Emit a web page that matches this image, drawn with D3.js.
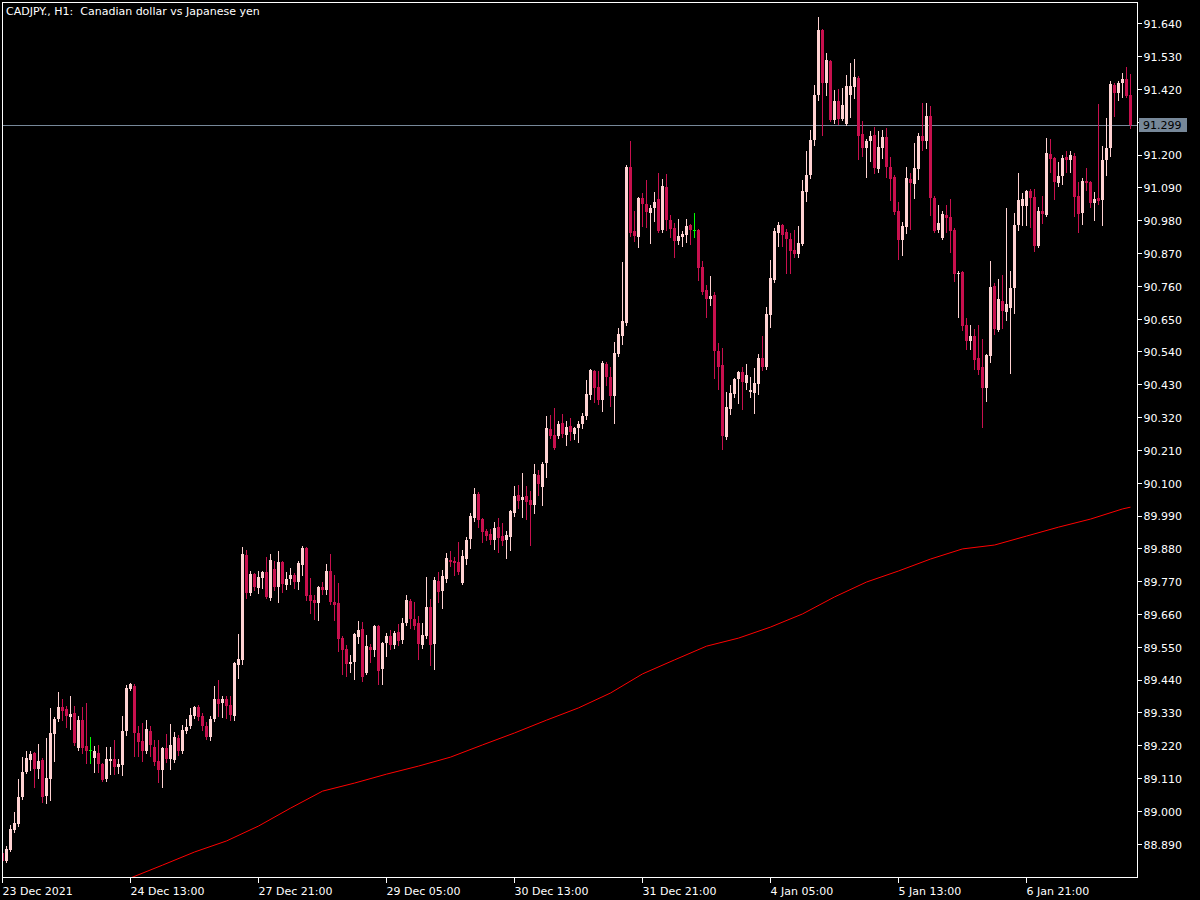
<!DOCTYPE html>
<html>
<head>
<meta charset="utf-8">
<script src="https://cdn.jsdelivr.net/npm/d3@7"></script>
<style>
html,body{margin:0;padding:0;background:#000;}
svg{display:block;}
text{font-family:"DejaVu Sans",sans-serif;font-size:11px;fill:#fff;}
</style>
</head>
<body>
<svg id="chart" width="1200" height="900"></svg>
<script>
const title = "CADJPY., H1:  Canadian dollar vs Japanese yen";
const lastPrice = 91.299;

const opens = [88.859,88.832,88.869,88.936,88.956,89.046,89.130,89.170,89.194,89.140,89.170,89.050,89.107,89.257,89.308,89.348,89.341,89.314,89.328,89.211,
89.304,89.217,89.204,89.177,89.194,89.157,89.107,89.167,89.174,89.147,89.154,89.267,89.408,89.418,89.261,89.234,89.200,89.267,89.214,89.167,
89.137,89.211,89.174,89.170,89.244,89.200,89.267,89.284,89.318,89.348,89.318,89.284,89.247,89.308,89.375,89.361,89.375,89.355,89.318,89.489,
89.505,89.858,89.730,89.794,89.747,89.780,89.800,89.713,89.811,89.750,89.834,89.757,89.777,89.790,89.767,89.824,89.881,89.723,89.707,89.697,
89.750,89.740,89.804,89.700,89.697,89.579,89.542,89.492,89.499,89.583,89.609,89.462,89.549,89.539,89.620,89.475,89.562,89.586,89.556,89.599,
89.572,89.630,89.703,89.643,89.630,89.556,89.586,89.683,89.559,89.770,89.737,89.777,89.841,89.837,89.834,89.764,89.844,89.911,89.982,90.062,
89.978,89.938,89.928,89.908,89.951,89.921,89.908,89.918,89.998,90.059,90.042,90.055,90.042,90.025,90.126,90.085,90.166,90.280,90.260,90.256,
90.300,90.260,90.290,90.263,90.283,90.297,90.324,90.394,90.474,90.421,90.377,90.498,90.454,90.390,90.531,90.592,90.635,91.158,90.943,90.923,
91.054,91.034,91.004,91.021,91.051,90.947,91.091,90.981,90.954,90.910,90.923,90.930,90.964,90.947,90.947,90.823,90.746,90.716,90.729,90.541,
90.494,90.253,90.347,90.397,90.447,90.471,90.434,90.404,90.401,90.431,90.518,90.488,90.662,90.779,90.937,90.964,90.940,90.917,90.880,90.866,
90.900,91.074,91.131,91.249,91.400,91.618,91.440,91.514,91.316,91.379,91.319,91.302,91.400,91.427,91.457,91.269,91.222,91.245,91.265,91.152,
91.222,91.259,91.158,91.125,91.011,90.913,90.957,91.118,91.101,91.152,91.262,91.245,91.329,91.054,90.947,90.920,90.997,90.991,90.947,90.799,
90.806,90.629,90.575,90.592,90.518,90.488,90.417,90.525,90.759,90.612,90.709,90.672,90.686,90.752,90.964,91.027,91.027,91.078,91.058,90.893,
91.011,90.997,91.202,91.188,91.105,91.128,91.192,91.182,91.195,91.061,91.004,91.111,91.108,91.037,91.054,91.048,91.182,91.222,91.433,91.406,
91.440,91.453,91.400];

const highs = [88.865,88.882,88.952,88.996,89.107,89.180,89.200,89.200,89.197,89.224,89.177,89.244,89.345,89.314,89.398,89.375,89.351,89.385,89.351,89.318,
89.348,89.361,89.247,89.217,89.221,89.160,89.214,89.214,89.237,89.174,89.318,89.422,89.428,89.425,89.284,89.294,89.304,89.284,89.237,89.237,
89.214,89.257,89.291,89.264,89.254,89.288,89.308,89.345,89.351,89.355,89.328,89.298,89.318,89.419,89.438,89.385,89.385,89.385,89.499,89.593,
89.884,89.874,89.804,89.797,89.804,89.804,89.851,89.861,89.837,89.871,89.837,89.800,89.814,89.797,89.837,89.888,89.884,89.780,89.723,89.754,
89.767,89.827,89.861,89.790,89.763,89.586,89.556,89.522,89.596,89.636,89.633,89.589,89.559,89.623,89.623,89.566,89.596,89.606,89.603,89.626,
89.647,89.723,89.710,89.700,89.653,89.630,89.784,89.710,89.784,89.800,89.807,89.864,89.871,89.851,89.901,89.874,89.918,89.998,90.082,90.069,
89.982,89.944,89.944,89.968,89.982,89.965,89.938,90.008,90.088,90.092,90.132,90.089,90.072,90.162,90.142,90.169,90.323,90.327,90.350,90.307,
90.330,90.307,90.317,90.287,90.307,90.334,90.444,90.481,90.478,90.474,90.508,90.504,90.488,90.572,90.618,90.840,91.165,91.245,91.010,91.057,
91.071,91.114,91.031,91.074,91.138,91.118,91.135,90.997,90.970,90.984,90.944,90.984,90.968,91.004,90.950,90.843,90.763,90.793,90.739,90.568,
90.551,90.404,90.427,90.451,90.474,90.488,90.498,90.454,90.484,90.531,90.592,90.689,90.846,90.954,90.974,90.967,90.950,90.937,90.947,90.960,
91.115,91.212,91.282,91.433,91.661,91.621,91.540,91.517,91.417,91.420,91.423,91.467,91.507,91.520,91.463,91.312,91.252,91.279,91.292,91.279,
91.282,91.289,91.192,91.131,91.041,90.974,91.158,91.138,91.238,91.272,91.373,91.373,91.362,91.061,91.031,91.011,91.031,91.051,90.954,90.809,
90.809,90.652,90.629,90.615,90.629,90.582,90.531,90.843,90.769,90.783,90.796,91.021,90.809,91.004,91.138,91.071,91.081,91.084,91.084,91.024,
91.061,91.255,91.252,91.192,91.175,91.198,91.212,91.212,91.205,91.108,91.121,91.155,91.111,91.074,91.369,91.229,91.323,91.447,91.440,91.447,
91.473,91.493,91.470];

const lows = [88.822,88.828,88.865,88.929,88.949,89.040,89.127,89.137,89.080,89.110,89.030,89.026,89.036,89.167,89.301,89.304,89.281,89.274,89.221,89.204,
89.194,89.160,89.160,89.130,89.130,89.100,89.100,89.123,89.123,89.127,89.120,89.254,89.405,89.184,89.184,89.167,89.194,89.184,89.154,89.097,
89.080,89.164,89.140,89.164,89.187,89.194,89.261,89.278,89.311,89.304,89.271,89.241,89.237,89.301,89.318,89.314,89.311,89.304,89.304,89.445,
89.492,89.713,89.723,89.740,89.730,89.747,89.713,89.707,89.740,89.700,89.733,89.744,89.760,89.747,89.744,89.790,89.707,89.663,89.643,89.640,
89.727,89.727,89.693,89.640,89.536,89.458,89.451,89.465,89.442,89.562,89.435,89.458,89.499,89.519,89.425,89.425,89.519,89.542,89.546,89.556,
89.562,89.623,89.613,89.609,89.509,89.546,89.579,89.489,89.475,89.700,89.680,89.767,89.821,89.790,89.794,89.760,89.827,89.881,89.971,89.952,
89.901,89.908,89.894,89.877,89.867,89.891,89.848,89.874,89.988,90.015,89.985,89.978,89.891,89.998,90.059,90.025,90.119,90.250,90.213,90.250,
90.253,90.226,90.243,90.246,90.236,90.283,90.313,90.380,90.370,90.364,90.340,90.427,90.357,90.300,90.524,90.565,90.628,90.927,90.910,90.890,
90.960,90.957,90.903,90.977,90.940,90.940,90.947,90.923,90.856,90.900,90.893,90.907,90.900,90.923,90.779,90.732,90.655,90.695,90.451,90.414,
90.213,90.246,90.330,90.387,90.367,90.347,90.414,90.387,90.334,90.397,90.478,90.481,90.622,90.773,90.893,90.893,90.803,90.803,90.856,90.856,
90.896,91.044,91.121,91.232,91.383,91.266,91.400,91.312,91.305,91.302,91.316,91.299,91.326,91.390,91.185,91.195,91.124,91.178,91.138,91.141,
91.188,91.125,91.048,91.000,90.850,90.863,90.937,90.950,91.054,91.118,91.215,91.222,90.997,90.940,90.940,90.917,90.940,90.873,90.776,90.655,
90.612,90.548,90.548,90.481,90.464,90.287,90.374,90.504,90.598,90.608,90.618,90.645,90.468,90.669,90.947,90.964,90.964,90.957,90.876,90.890,
90.970,90.994,91.141,91.051,91.094,91.101,91.141,91.141,90.994,90.940,90.967,91.081,91.024,90.981,91.034,90.964,91.131,91.195,91.329,91.383,
91.393,91.393,91.289];

const closes = [88.832,88.872,88.939,88.959,89.046,89.130,89.177,89.190,89.140,89.167,89.046,89.110,89.261,89.308,89.348,89.335,89.318,89.324,89.227,89.304,
89.211,89.200,89.204,89.200,89.157,89.103,89.174,89.174,89.147,89.157,89.267,89.412,89.425,89.261,89.231,89.200,89.274,89.221,89.164,89.137,
89.211,89.174,89.221,89.247,89.200,89.271,89.281,89.321,89.348,89.314,89.284,89.247,89.308,89.375,89.358,89.375,89.351,89.321,89.496,89.509,
89.861,89.730,89.794,89.750,89.784,89.800,89.717,89.841,89.750,89.834,89.760,89.777,89.790,89.767,89.831,89.881,89.720,89.703,89.697,89.750,
89.740,89.804,89.700,89.690,89.576,89.539,89.492,89.499,89.593,89.606,89.448,89.552,89.539,89.620,89.469,89.562,89.586,89.556,89.596,89.569,
89.629,89.707,89.643,89.620,89.559,89.589,89.683,89.556,89.774,89.734,89.787,89.848,89.834,89.831,89.800,89.854,89.908,89.988,90.062,89.975,
89.935,89.921,89.908,89.948,89.915,89.904,89.925,90.005,90.055,90.039,90.052,90.035,90.025,90.129,90.095,90.162,90.283,90.256,90.216,90.296,
90.263,90.287,90.270,90.283,90.297,90.324,90.397,90.478,90.418,90.377,90.501,90.454,90.390,90.535,90.599,90.641,91.158,90.937,90.927,91.054,
91.034,91.007,91.021,91.041,90.944,91.094,90.981,90.950,90.910,90.927,90.933,90.960,90.947,90.947,90.819,90.738,90.716,90.726,90.541,90.488,
90.256,90.354,90.401,90.447,90.471,90.437,90.461,90.411,90.434,90.518,90.488,90.665,90.786,90.943,90.964,90.930,90.917,90.876,90.866,90.903,
91.078,91.131,91.248,91.400,91.618,91.440,91.517,91.316,91.380,91.319,91.366,91.430,91.430,91.460,91.262,91.222,91.245,91.262,91.155,91.225,
91.259,91.158,91.118,91.007,90.913,90.960,91.121,91.104,91.155,91.262,91.245,91.329,91.054,90.944,90.970,91.000,90.987,90.944,90.799,90.803,
90.626,90.575,90.592,90.511,90.478,90.417,90.528,90.756,90.615,90.716,90.675,90.699,90.752,90.964,91.048,91.051,91.078,91.054,90.893,91.011,
91.001,91.205,91.185,91.108,91.128,91.188,91.181,91.198,91.058,91.001,91.111,91.104,91.038,91.051,91.044,91.182,91.222,91.437,91.406,91.440,
91.453,91.396,91.299];

// moving average, read at every 8th bar
const maBar   = [32,40,48,56,64,72,80,88,96,104,112,120,128,136,144,152,160,168,176,184,192,200,208,216,224,232,240,248,256,264,272,280,282];
const maValue = [88.775,88.818,88.862,88.899,88.949,89.009,89.066,89.093,89.123,89.150,89.180,89.221,89.261,89.304,89.345,89.395,89.459,89.506,89.552,89.579,
89.616,89.660,89.717,89.767,89.804,89.844,89.878,89.891,89.921,89.951,89.978,90.012,90.018];

const yTickLabels = ["91.640","91.530","91.420","91.310","91.200","91.090","90.980","90.870","90.760","90.650","90.540","90.430","90.320",
"90.210","90.100","89.990","89.880","89.770","89.660","89.550","89.440","89.330","89.220","89.110","89.000","88.890"];
const xTickLabels = ["23 Dec 2021","24 Dec 13:00","27 Dec 21:00","29 Dec 05:00","30 Dec 13:00","31 Dec 21:00","4 Jan 05:00","5 Jan 13:00","6 Jan 21:00"];
const xTickBars = [0,32,64,96,128,160,192,224,256];

const colBull = "#ffd2d2", colBear = "#c8104e", colDoji = "#00ff00";

const L = 2, R = 1137, T = 2, B = 877;
const svg = d3.select("#chart");
svg.append("rect").attr("width",1200).attr("height",900).attr("fill","#000");

const n = closes.length;
const x = d3.scaleLinear().domain([0, n-1]).range([2.5, 2.5 + 4*(n-1)]);
const y = d3.scaleLinear().domain([88.7782, 91.7114]).range([B, T]);

svg.append("defs").append("clipPath").attr("id","plot")
  .append("rect").attr("x",L).attr("y",T).attr("width",R-L).attr("height",B-T);

const plot = svg.append("g").attr("clip-path","url(#plot)");

// moving average
const maData = maBar.map((b,i)=>[b, maValue[i]]);
plot.append("path").datum(maData)
  .attr("fill","none").attr("stroke","#ff0000").attr("stroke-width",1)
  .attr("d", d3.line().x(d=>x(d[0])).y(d=>y(d[1])));

// price line
plot.append("line").attr("x1",L).attr("x2",R)
  .attr("y1",Math.round(y(lastPrice))+0.5).attr("y2",Math.round(y(lastPrice))+0.5)
  .attr("stroke","#778899").attr("stroke-width",1);

// candles
const idx = d3.range(n);
const color = i => closes[i] > opens[i] ? colBull : (closes[i] < opens[i] ? colBear : colDoji);
const cg = plot.append("g").attr("shape-rendering","crispEdges");
cg.selectAll("rect.wick").data(idx).join("rect").attr("class","wick")
  .attr("x", i => x(i) - 0.5)
  .attr("width", 1)
  .attr("y", i => Math.round(y(highs[i])))
  .attr("height", i => Math.max(1, Math.round(y(lows[i])) - Math.round(y(highs[i])) + 1))
  .attr("fill", color);
cg.selectAll("rect.body").data(idx).join("rect").attr("class","body")
  .attr("x", i => x(i) - 1.5)
  .attr("width", 3)
  .attr("y", i => Math.round(y(Math.max(opens[i],closes[i]))))
  .attr("height", i => Math.max(1, Math.round(y(Math.min(opens[i],closes[i]))) - Math.round(y(Math.max(opens[i],closes[i])))))
  .attr("fill", color);

// frame
svg.append("rect").attr("x",L+0.5).attr("y",T+0.5).attr("width",R-L).attr("height",B-T)
  .attr("fill","none").attr("stroke","#fff").attr("stroke-width",1).attr("shape-rendering","crispEdges");

// y axis
const yAxis = d3.axisRight(y)
  .tickValues(yTickLabels.map(Number))
  .tickFormat((d,i)=>yTickLabels[i])
  .tickSize(4).tickPadding(2).offset(0.5);
const ya = svg.append("g").attr("transform",`translate(${R+0.5},0)`).call(yAxis);
ya.select(".domain").remove();
ya.selectAll("line").attr("stroke","#fff").attr("shape-rendering","crispEdges");
ya.selectAll("text").attr("fill","#fff").attr("dy","0.4em")
  .style("font-family","'DejaVu Sans',sans-serif").style("font-size","11px");

// x axis
const xAxis = d3.axisBottom(x)
  .tickValues(xTickBars)
  .tickFormat((d,i)=>xTickLabels[i])
  .tickSize(5).tickPadding(5).offset(0);
const xa = svg.append("g").attr("transform",`translate(0,${B+0.5})`).call(xAxis);
xa.select(".domain").remove();
xa.selectAll("line").attr("stroke","#fff").attr("shape-rendering","crispEdges");
xa.selectAll("text").attr("fill","#fff").attr("text-anchor","start")
  .style("font-family","'DejaVu Sans',sans-serif").style("font-size","11px");

// last price label
const py = Math.round(y(lastPrice));
svg.append("rect").attr("x",R+2).attr("y",py-7).attr("width",48).attr("height",14).attr("fill","#778899");
svg.append("text").attr("x",R+6).attr("y",py+4).text(d3.format(".3f")(lastPrice)).style("fill","#000");

// title
svg.append("text").attr("x",6).attr("y",15).attr("xml:space","preserve").style("white-space","pre").text(title);
</script>
</body>
</html>
